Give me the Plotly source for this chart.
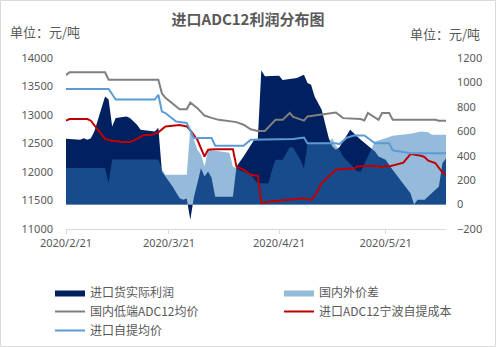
import plotly.graph_objects as go

# ---- series data (dates as vertices of each series) ----
profit_dates = ["2020-02-21", "2020-02-25", "2020-02-26", "2020-02-27", "2020-02-28", "2020-02-29",
                "2020-03-02", "2020-03-03", "2020-03-04", "2020-03-05", "2020-03-06", "2020-03-09",
                "2020-03-10", "2020-03-12", "2020-03-13", "2020-03-17", "2020-03-18", "2020-03-19",
                "2020-03-22", "2020-03-24", "2020-03-25", "2020-03-26", "2020-03-27", "2020-03-28",
                "2020-03-29", "2020-03-30", "2020-03-31", "2020-04-01", "2020-04-02", "2020-04-03",
                "2020-04-08", "2020-04-09", "2020-04-11", "2020-04-13", "2020-04-14", "2020-04-15",
                "2020-04-16", "2020-04-17", "2020-04-21", "2020-04-22", "2020-04-24", "2020-04-26",
                "2020-04-28", "2020-04-29", "2020-04-30", "2020-05-01", "2020-05-03", "2020-05-04",
                "2020-05-05", "2020-05-06", "2020-05-07", "2020-05-08", "2020-05-11", "2020-05-14",
                "2020-05-18", "2020-05-19", "2020-05-21", "2020-05-23", "2020-05-26", "2020-05-28",
                "2020-05-29", "2020-05-30", "2020-06-01", "2020-06-03", "2020-06-05", "2020-06-06",
                "2020-06-07"]
profit_values = [538, 530, 544, 530, 544, 600,
                 790, 885, 860, 639, 708, 721,
                 708, 653, 612, 598, 628, 270,
                 147, 52, 39, 50, -126, 60,
                 175, 298, 229, 270, 220, 65,
                 65, 311, 393, 489, 530, 530,
                 1100, 1050, 1055, 1020, 1030, 1036,
                 1063, 995, 981, 885, 776, 667,
                 544, 475, 448, 470, 612, 530,
                 434, 393, 366, 284, 175, 93,
                 0, 39, 39, 93, 147, 339,
                 380]

spread_dates = ["2020-02-21", "2020-03-03", "2020-03-04", "2020-03-05", "2020-03-18", "2020-03-19",
                "2020-03-20", "2020-03-26", "2020-03-27", "2020-03-28", "2020-03-29", "2020-03-30",
                "2020-03-31", "2020-04-01", "2020-04-03", "2020-04-07", "2020-04-08", "2020-04-10",
                "2020-04-13", "2020-04-15", "2020-04-18", "2020-04-19", "2020-04-20", "2020-04-22",
                "2020-04-24", "2020-04-25", "2020-04-27", "2020-04-28", "2020-04-29", "2020-05-05",
                "2020-05-06", "2020-05-07", "2020-05-08", "2020-05-09", "2020-05-13", "2020-05-14",
                "2020-05-16", "2020-05-18", "2020-05-21", "2020-05-23", "2020-05-28", "2020-05-31",
                "2020-06-02", "2020-06-03", "2020-06-07"]
spread_values = [300, 300, 175, 370, 370, 290,
                 245, 245, 620, 530, 448, 407,
                 311, 442, 440, 425, 311, 280,
                 245, 175, 175, 283, 366, 366,
                 470, 465, 366, 298, 500, 510,
                 544, 480, 448, 393, 270, 270,
                 393, 516, 544, 563, 579, 598,
                 593, 571, 571]

low_dates = ["2020-02-21", "2020-02-22", "2020-03-03", "2020-03-04", "2020-03-18", "2020-03-19",
             "2020-03-20", "2020-03-24", "2020-03-26", "2020-03-27", "2020-03-29", "2020-03-31",
             "2020-04-02", "2020-04-04", "2020-04-09", "2020-04-11", "2020-04-13", "2020-04-15",
             "2020-04-17", "2020-04-20", "2020-04-22", "2020-04-24", "2020-04-25", "2020-04-28",
             "2020-04-29", "2020-05-03", "2020-05-07", "2020-05-09", "2020-05-14", "2020-05-15",
             "2020-05-16", "2020-05-19", "2020-05-20", "2020-05-22", "2020-05-23", "2020-06-04",
             "2020-06-05", "2020-06-07"]
low_values = [13700, 13750, 13750, 13620, 13620, 13380,
              13300, 13100, 13100, 13220, 13120, 12990,
              12950, 12915, 12875, 12830, 12750, 12720,
              12720, 12915, 12915, 13035, 12965, 12900,
              12975, 13005, 13045, 12945, 12930, 12905,
              13035, 12915, 13035, 13035, 12915, 12915,
              12900, 12900]

cost_dates = ["2020-02-21", "2020-02-22", "2020-02-27", "2020-02-28", "2020-03-01", "2020-03-03",
              "2020-03-05", "2020-03-08", "2020-03-10", "2020-03-12", "2020-03-14", "2020-03-16",
              "2020-03-18", "2020-03-20", "2020-03-24", "2020-03-26", "2020-03-27", "2020-03-29",
              "2020-03-31", "2020-04-01", "2020-04-03", "2020-04-08", "2020-04-09", "2020-04-11",
              "2020-04-13", "2020-04-15", "2020-04-16", "2020-04-18", "2020-04-23", "2020-04-28",
              "2020-04-30", "2020-05-01", "2020-05-03", "2020-05-07", "2020-05-10", "2020-05-12",
              "2020-05-13", "2020-05-18", "2020-05-20", "2020-05-21", "2020-05-22", "2020-05-25",
              "2020-05-26", "2020-05-28", "2020-05-31", "2020-06-01", "2020-06-02", "2020-06-04",
              "2020-06-06", "2020-06-07"]
cost_values = [12900, 12930, 12930, 12900, 12740, 12580,
               12550, 12525, 12525, 12580, 12650, 12650,
               12695, 12800, 12825, 12800, 12730, 12565,
               12270, 12390, 12400, 12400, 12095, 12040,
               11950, 11930, 11455, 11480, 11510, 11540,
               11510, 11570, 11805, 12040, 12055, 12055,
               12095, 12110, 12085, 12110, 12095, 12145,
               12165, 12315, 12285, 12260, 12200, 12155,
               11990, 11950]

pickup_dates = ["2020-02-21", "2020-03-04", "2020-03-06", "2020-03-17", "2020-03-18", "2020-03-19",
                "2020-03-20", "2020-03-23", "2020-03-26", "2020-03-28", "2020-04-02", "2020-04-03",
                "2020-04-11", "2020-04-13", "2020-04-25", "2020-04-28", "2020-04-29", "2020-05-07",
                "2020-05-08", "2020-05-10", "2020-05-12", "2020-05-15", "2020-05-18", "2020-05-22",
                "2020-05-23", "2020-05-28", "2020-06-07"]
pickup_values = [13455, 13455, 13270, 13270, 13355, 13060,
                 13035, 12885, 12860, 12595, 12595, 12460,
                 12460, 12565, 12580, 12605, 12505, 12505,
                 12490, 12600, 12640, 12640, 12505, 12505,
                 12380, 12330, 12330]

tick_dates = ["2020-02-21", "2020-03-21", "2020-04-21", "2020-05-21"]
tick_labels = ["2020/2/21", "2020/3/21", "2020/4/21", "2020/5/21"]

CJK = "Noto Sans CJK SC"
TXT = "#595959"

fig = go.Figure()

# areas on the right-hand axis
fig.add_trace(go.Scatter(x=profit_dates, y=profit_values, name="进口货实际利润",
                         mode="lines", line=dict(width=0, color="#002060"),
                         fill="tozeroy", fillcolor="#002060", yaxis="y", legend="legend"))
fig.add_trace(go.Scatter(x=spread_dates, y=spread_values, name="国内外价差",
                         mode="lines", line=dict(width=0, color="rgba(46,117,182,0.5)"),
                         fill="tozeroy", fillcolor="rgba(46,117,182,0.5)", yaxis="y", legend="legend2"))

# price lines on the left-hand axis
fig.add_trace(go.Scatter(x=low_dates, y=low_values, name="国内低端ADC12均价",
                         mode="lines", line=dict(width=2, color="#7F7F7F"), yaxis="y2", legend="legend"))
fig.add_trace(go.Scatter(x=cost_dates, y=cost_values, name="进口ADC12宁波自提成本",
                         mode="lines", line=dict(width=2, color="#C00000"), yaxis="y2", legend="legend2"))
fig.add_trace(go.Scatter(x=pickup_dates, y=pickup_values, name="进口自提均价",
                         mode="lines", line=dict(width=2, color="#5B9BD5"), yaxis="y2", legend="legend"))

W, H = 496, 347
L, R, T, B = 66, 50, 58, 118
pw, ph = W - L - R, H - T - B


def px(x):
    return (x - L) / pw


def py(y):
    return (H - B - y) / ph


legend_common = dict(orientation="v", xref="paper", yref="paper",
                     xanchor="left", yanchor="top", bgcolor="rgba(0,0,0,0)",
                     font=dict(family=CJK, size=12, color=TXT), itemwidth=30,
                     tracegroupgap=0)

fig.update_layout(
    width=W, height=H,
    margin=dict(l=L, r=R, t=T, b=B, autoexpand=False),
    paper_bgcolor="white", plot_bgcolor="white",
    title=dict(text="<b>进口ADC12利润分布图</b>", x=0.5, xanchor="center",
               y=1 - 20 / H, yanchor="middle",
               font=dict(family=CJK, size=15, color=TXT)),
    xaxis=dict(type="date", range=["2020-02-21", "2020-06-07"],
               tickvals=tick_dates, ticktext=tick_labels, tickangle=0,
               showgrid=False, zeroline=False, showline=True, linecolor="#D9D9D9",
               linewidth=1, ticks="outside", ticklen=4, tickcolor="#D9D9D9",
               tickfont=dict(family="Noto Sans", size=11, color=TXT)),
    yaxis=dict(range=[-200, 1200], dtick=200, side="right", showgrid=False,
               zeroline=False, showline=False, ticks="", ticklabelstandoff=10,
               tickformat="d",
               tickfont=dict(family="Noto Sans", size=11, color=TXT)),
    yaxis2=dict(range=[11000, 14000], dtick=500, side="left", overlaying="y",
                showgrid=False, zeroline=False, showline=False, ticks="",
                ticklabelstandoff=12, tickformat="d",
                tickfont=dict(family="Noto Sans", size=11, color=TXT)),
    legend=dict(x=px(50), y=py(278), **legend_common),
    legend2=dict(x=px(279), y=py(278), **legend_common),
    showlegend=True,
)

# unit captions for both axes
fig.add_annotation(x=px(8), y=py(32), xref="paper", yref="paper", text="单位：元/吨",
                   showarrow=False, xanchor="left", yanchor="middle",
                   font=dict(family=CJK, size=13, color=TXT))
fig.add_annotation(x=px(482), y=py(33), xref="paper", yref="paper", text="单位：元/吨",
                   showarrow=False, xanchor="right", yanchor="middle",
                   font=dict(family=CJK, size=13, color=TXT))

# thin frame round the whole chart
fig.add_shape(type="rect", xref="paper", yref="paper",
              x0=px(0.5), x1=px(W - 0.5), y0=py(H - 0.5), y1=py(0.5),
              line=dict(color="#D9D9D9", width=1), layer="below")

fig.write_html("out.html")
